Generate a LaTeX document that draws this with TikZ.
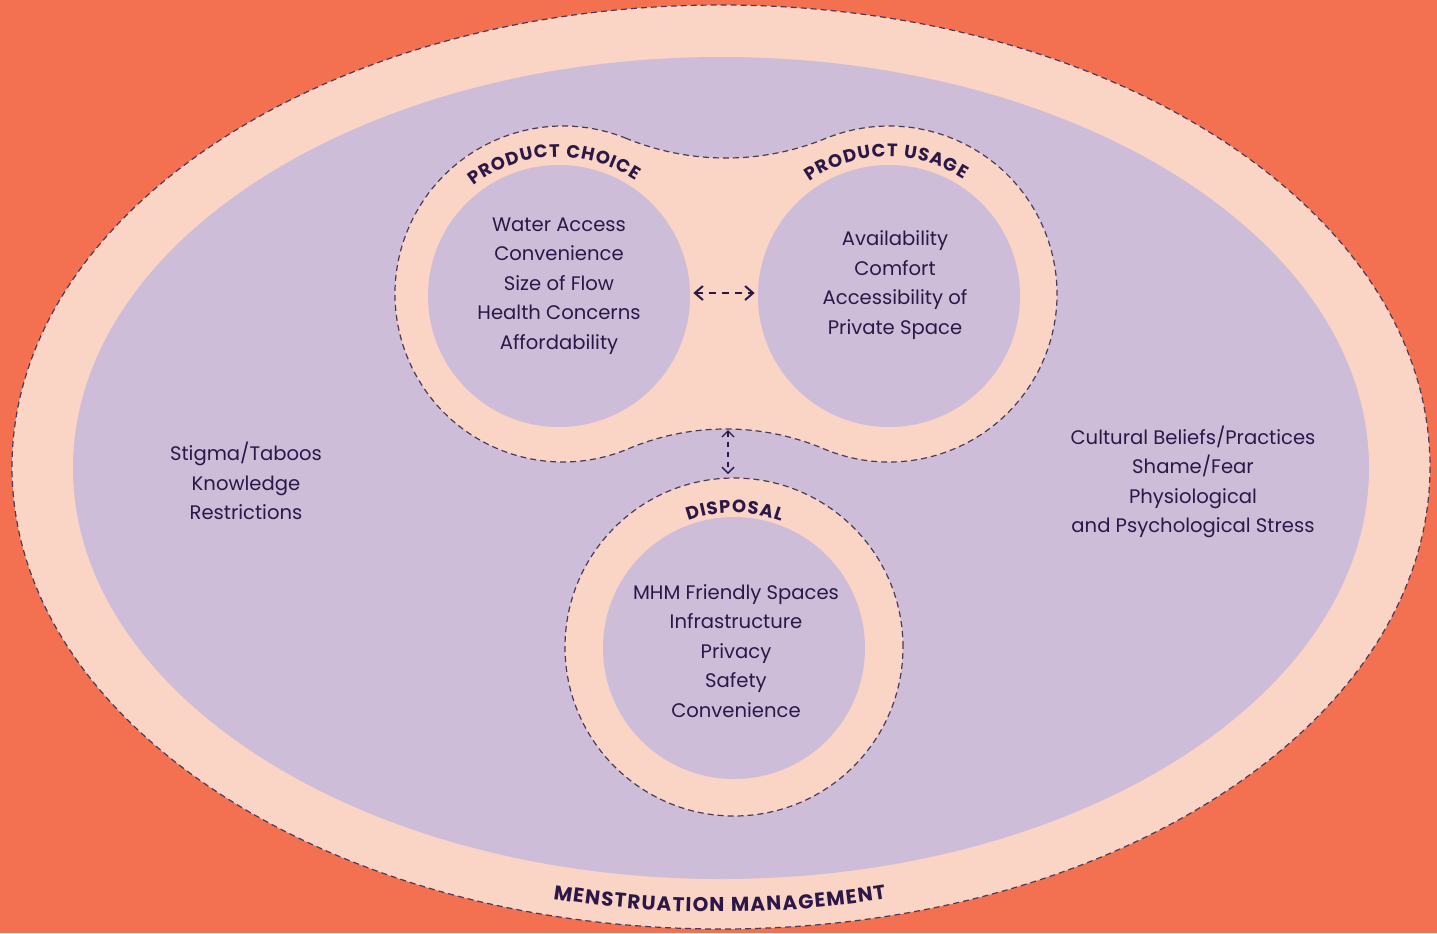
\documentclass[tikz,border=0pt]{standalone}
\usepackage{fontspec}
\setmainfont{Poppins}
\usetikzlibrary{arrows.meta,decorations.text}

\definecolor{bgorange}{HTML}{F37050}
\definecolor{blush}{HTML}{FAD4C4}
\definecolor{lilac}{HTML}{CDBDD8}
\definecolor{ink}{HTML}{2B1848}
\definecolor{edge}{HTML}{4A3A5C}

\newcommand{\capsfont}{\bfseries\fontsize{9}{11}\selectfont\kern0.5pt}
\newcommand{\bandfont}{\bfseries\fontsize{10}{12}\selectfont\kern0.6pt}

\tikzset{
	dashline/.style={draw=edge, line width=0.6pt, dash pattern=on 3pt off 2pt},
	ring/.style={fill=blush, dashline},
	core/.style={circle, fill=lilac, minimum size=131pt, inner sep=0pt},
	itemtext/.style={align=center, text=ink, font=\fontsize{9.8}{14.75}\selectfont},
	arctext/.style={decorate, decoration={text along path, text align=center, text color=ink, text={|\capsfont|#1}}},
	bandtext/.style={decorate, decoration={text along path, text align=center, text color=ink, text={|\bandfont|#1}}},
	hchev/.style={draw=ink, line width=1pt, dash pattern=on 3.5pt off 3pt,
		{Straight Barb[length=4pt,width=7pt]}-{Straight Barb[length=4pt,width=7pt]}},
	vchev/.style={draw=ink, line width=0.7pt, dash pattern=on 2.5pt off 2.5pt,
		{Straight Barb[length=3pt,width=6pt]}-{Straight Barb[length=3pt,width=6pt]}}
}

\begin{document}
\begin{tikzpicture}[x=0.5pt,y=-0.5pt]
	\fill[bgorange] (0,0) rectangle (1437,933);
	\useasboundingbox (0,0) rectangle (1437,933);

	% outer band and inner field
	\draw[ring] (721,467) ellipse [x radius=709, y radius=462];
	\fill[lilac] (721,468) ellipse [x radius=648, y radius=411];
	\path[bandtext={MENSTRUATION MANAGEMENT}] (719,467) ++(118:692 and 445) arc[start angle=118, end angle=62, x radius=692, y radius=445];

	% choice and usage blob
	\draw[ring] (563,294) ++(292.22:168) arc[start angle=292.22, end angle=67.11, radius=168]
		arc[start angle=247.11, end angle=292.89, radius=251.1]
		arc[start angle=112.89, end angle=-112.22, radius=168]
		arc[start angle=67.78, end angle=112.22, radius=263.1] -- cycle;
	\node[core] (choice) at (559,296) {};
	\node[core] (usage) at (889,296) {};
	\path[arctext={PRODUCT CHOICE}] (558,296) ++(198:139) arc[start angle=198, end angle=338, radius=139];
	\path[arctext={PRODUCT USAGE}] (888,296) ++(199:139) arc[start angle=199, end angle=339, radius=139];

	% disposal
	\node[ring, circle, minimum size=169pt] (disposalring) at (734,647) {};
	\node[core] (disposal) at (734,648) {};
	\path[arctext={DISPOSAL}] (734,647) ++(225:134) arc[start angle=225, end angle=315, radius=134];

	% texts
	\node[itemtext] (choicetext) at (559,286) {Water Access\\Convenience\\Size of Flow\\Health Concerns\\Affordability};
	\node[itemtext] (usagetext) at (895,285) {Availability\\Comfort\\Accessibility of\\Private Space};
	\node[itemtext] (disposaltext) at (736,651) {MHM Friendly Spaces\\Infrastructure\\Privacy\\Safety\\Convenience};
	\node[itemtext] (leftfactors) at (246,481) {Stigma/Taboos\\Knowledge\\Restrictions};
	\node[itemtext] (rightfactors) at (1193,482) {Cultural Beliefs/Practices\\Shame/Fear\\Physiological\\and Psychological Stress};

	% links
	\coordinate (waist) at (728,429);
	\coordinate (droptop) at (728,478);
	\draw[hchev, shorten <=1.5pt, shorten >=1.5pt] ([yshift=1.5pt]choice.east) -- ([yshift=1.5pt]usage.west);
	\draw[vchev, shorten <=0.5pt, shorten >=2pt] (waist) -- (droptop);
\end{tikzpicture}
\end{document}
